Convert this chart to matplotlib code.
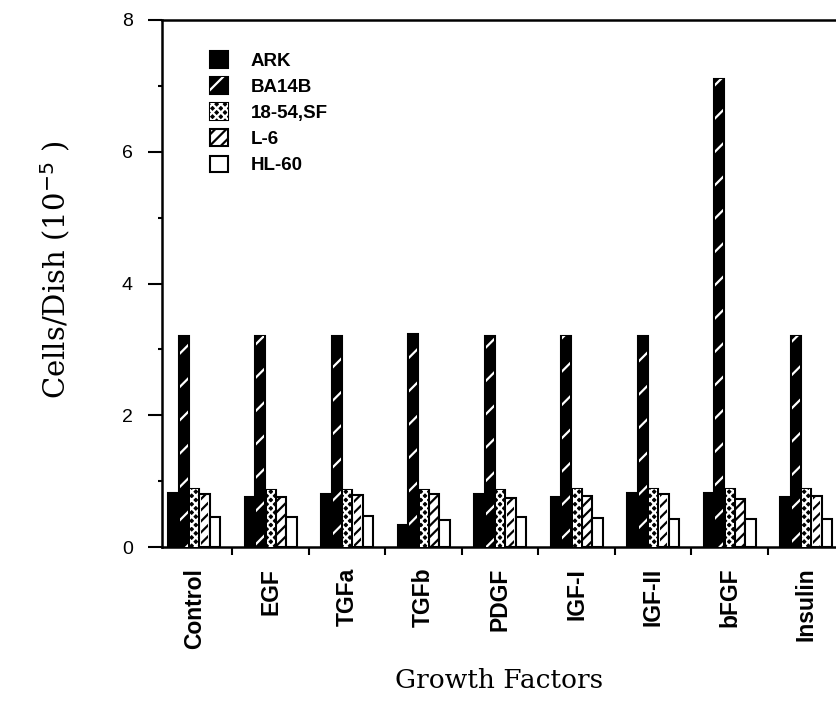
import numpy as np
import matplotlib
matplotlib.use("Agg")
import matplotlib.pyplot as plt
from matplotlib.patches import Patch
from matplotlib.ticker import FixedLocator, NullFormatter

# Data (cells/dish x 10^-5)
factors = ["Control", "EGF", "TGFa", "TGFb", "PDGF", "IGF-I", "IGF-II", "bFGF", "Insulin"]
ark = [0.82, 0.76, 0.80, 0.33, 0.80, 0.76, 0.82, 0.82, 0.76]
ba14b = [3.20, 3.20, 3.20, 3.23, 3.20, 3.20, 3.20, 7.10, 3.20]
sf1854 = [0.88, 0.87, 0.86, 0.86, 0.87, 0.88, 0.88, 0.88, 0.88]
l6 = [0.80, 0.76, 0.79, 0.80, 0.75, 0.77, 0.80, 0.73, 0.77]
hl60 = [0.45, 0.45, 0.47, 0.41, 0.46, 0.44, 0.42, 0.43, 0.43]
series_names = ["ARK", "BA14B", "18-54,SF", "L-6", "HL-60"]

# (face, hatch, hatch colour)
styles = [
    ("black", None, None),
    ("black", "/", "white"),
    ("black", "xxxx", "white"),
    ("white", "///", "black"),
    ("white", None, None),
]

plt.rcParams["hatch.linewidth"] = 1.6

fig = plt.figure(figsize=(8.36, 7.19), dpi=100)
ax = fig.add_axes([162 / 836, 1 - 547 / 719, 1.05 - 162 / 836, (547 - 20) / 719])

x = np.arange(len(factors))
w = 0.136
all_vals = [ark, ba14b, sf1854, l6, hl60]
for k, vals in enumerate(all_vals):
    face, hatch, hcol = styles[k]
    pos = x + (k - 2) * w
    ax.bar(pos, vals, width=w, color=face, edgecolor="black", linewidth=1.5, zorder=2)
    if hatch:
        ax.bar(pos, vals, width=w * 0.75, color="none", edgecolor=hcol,
               hatch=hatch, linewidth=0, zorder=3)

ax.set_xlim(-0.42, -0.42 + (1.05 * 836 - 162) / 76.5)
ax.set_ylim(0, 8)

for side in ["left", "bottom", "top"]:
    ax.spines[side].set_linewidth(1.8)
ax.spines["right"].set_visible(False)

ax.set_yticks([0, 2, 4, 6, 8])
ax.yaxis.set_minor_locator(FixedLocator([1, 3, 5, 7]))
ax.tick_params(axis="y", which="major", length=10, width=1.5, pad=11, labelsize=14)
ax.tick_params(axis="y", which="minor", length=3, width=1.5)
for t in ax.get_yticklabels():
    t.set_family("Liberation Sans")

# boundary ticks between groups, labels at group centres
ax.xaxis.set_major_locator(FixedLocator(x[:-1] + 0.5))
ax.xaxis.set_major_formatter(NullFormatter())
ax.xaxis.set_minor_locator(FixedLocator(x))
ax.set_xticklabels(factors, minor=True, rotation=90, fontsize=16.5,
                   fontweight="bold", family="Liberation Sans")
ax.tick_params(axis="x", which="major", length=6, width=1.5, top=False)
ax.tick_params(axis="x", which="minor", length=0, pad=15)

fig.text(499 / 836, 1 - 680 / 719, "Growth Factors", ha="center", va="center",
         fontsize=19, family="DejaVu Serif")
fig.text(56 / 836, 1 - 270 / 719, "Cells/Dish (10$^{-5}$ )", ha="center", va="center",
         rotation=90, fontsize=21, family="DejaVu Serif")

handles = []
for k, name in enumerate(series_names):
    face, hatch, hcol = styles[k]
    base = Patch(facecolor=face, edgecolor="black", linewidth=1.5)
    if hatch:
        handles.append((base, Patch(facecolor="none", edgecolor=hcol, hatch=hatch, linewidth=0)))
    else:
        handles.append(base)
leg = ax.legend(handles, series_names, loc="upper left",
                bbox_to_anchor=(201 / 836, 1 - 42 / 719), bbox_transform=fig.transFigure,
                frameon=False, prop={"family": "Liberation Sans", "weight": "bold", "size": 13.5},
                handlelength=0.95, handleheight=0.95, handletextpad=1.2, labelspacing=0.4,
                borderpad=0)

fig.savefig("out.png", dpi=100)
